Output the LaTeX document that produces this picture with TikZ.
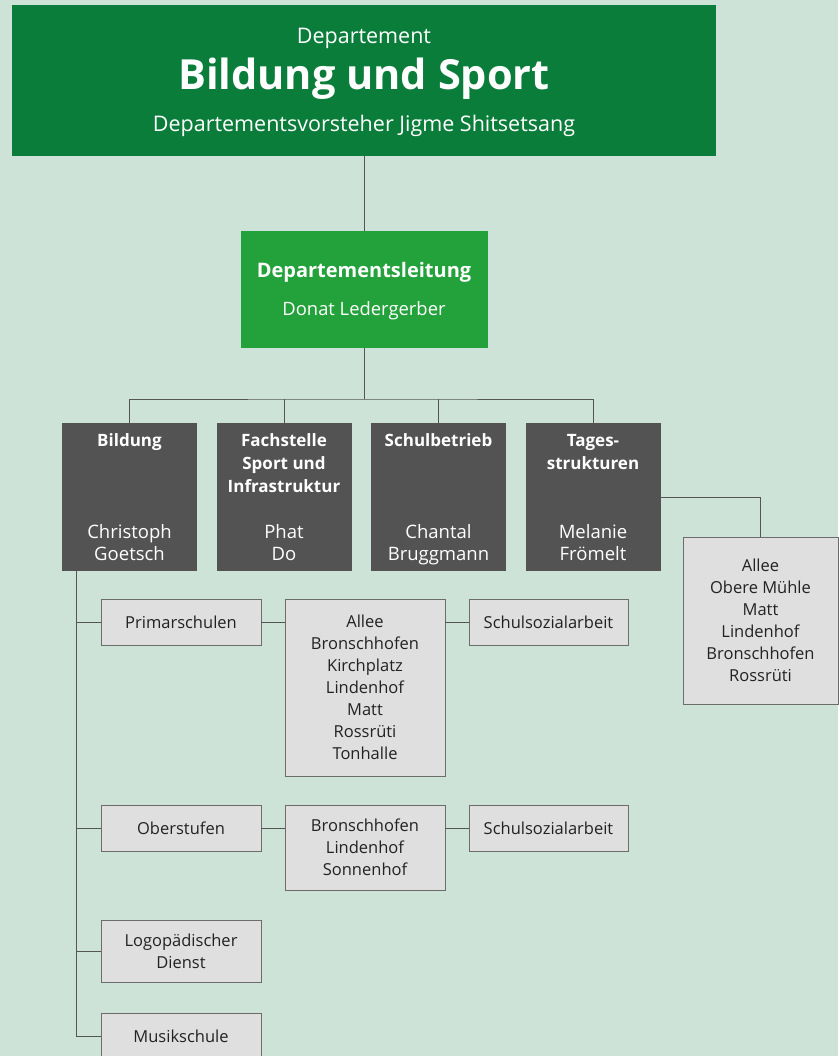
\documentclass[tikz,border=0pt]{standalone}
\usepackage{fontspec}
\setmainfont{Open Sans}
\usepackage{xcolor}
\usepackage{tikz}
\usetikzlibrary{positioning}

\definecolor{bggreen}{HTML}{CDE3D7}
\definecolor{deptgreen}{HTML}{0B7D3A}
\definecolor{leitgreen}{HTML}{23A23B}
\definecolor{unitgrey}{HTML}{535353}
\definecolor{boxgrey}{HTML}{DFDFDF}
\definecolor{boxline}{HTML}{6C6C6C}
\definecolor{wiregrey}{HTML}{555555}
\definecolor{textdark}{HTML}{222222}

\begin{document}
\begin{tikzpicture}[x=1pt, y=1pt,
                    node distance=24pt and 24pt,
                    every node/.style={align=center, inner sep=0pt, outer sep=0pt},
                    topbox/.style={fill=deptgreen, minimum width=704pt, minimum height=151pt},
                    leitbox/.style={fill=leitgreen, minimum width=247pt, minimum height=117pt},
                    unitbox/.style={fill=unitgrey, minimum width=135pt, minimum height=148pt},
                    box/.style={draw=boxline, line width=0.8pt, fill=boxgrey, text=textdark,
                                minimum width=160pt, minimum height=46pt,
                                font=\fontsize{16.5}{22}\selectfont},
                    toptext/.style={text=white, font=\fontsize{21.5}{26}\selectfont},
                    titletext/.style={text=white, font=\fontsize{41.5}{48}\selectfont\bfseries},
                    leittitle/.style={text=white, font=\fontsize{20}{24}\selectfont\bfseries},
                    leitname/.style={text=white, font=\fontsize{18.4}{22}\selectfont},
                    unittitle/.style={text=white, font=\fontsize{17}{23}\selectfont\bfseries},
                    unitname/.style={text=white, font=\fontsize{18.5}{22}\selectfont},
                    wire/.style={draw=wiregrey, line width=1pt}
                ]

                    % Background
                    \path[use as bounding box, fill=bggreen] (0,0) rectangle (838,-1056);

                    % Departement
                    \node (dept) [topbox, anchor=north west] at (12,-5) {};
                    \node (deptlabel) [toptext, anchor=base] at ([yshift=-39pt]dept.north) {Departement};
                    \node (depttitle) [titletext, anchor=base] at ([yshift=-85pt]dept.north) {Bildung und Sport};
                    \node (deptchef) [toptext, anchor=base] at ([yshift=-127pt]dept.north) {Departementsvorsteher Jigme Shitsetsang};

                    % Departementsleitung
                    \node (leitung) [leitbox, below=75pt of dept] {};
                    \node (leitlabel) [leittitle, anchor=base] at ([yshift=-47pt]leitung.north) {Departementsleitung};
                    \node (leitname) [leitname, anchor=base] at ([yshift=-84pt]leitung.north) {Donat Ledergerber};

                    % Bereiche
                    \node (bildung) [unitbox, anchor=north west] at (62,-423) {};
                    \node (fachstelle) [unitbox, right=19.5pt of bildung] {};
                    \node (schulbetrieb) [unitbox, right=19.5pt of fachstelle] {};
                    \node (tages) [unitbox, right=19.5pt of schulbetrieb] {};

                    \node [unittitle, anchor=north] at ([yshift=-11pt]bildung.north) {Bildung};
                    \node [unittitle, anchor=north] at ([yshift=-11pt]fachstelle.north) {Fachstelle\\Sport und\\Infrastruktur};
                    \node [unittitle, anchor=north] at ([yshift=-11pt]schulbetrieb.north) {Schulbetrieb};
                    \node [unittitle, anchor=north] at ([yshift=-11pt]tages.north) {Tages-\\strukturen};

                    \node [unitname, anchor=base] at ([yshift=11pt]bildung.south) {Christoph\\Goetsch};
                    \node [unitname, anchor=base] at ([yshift=11pt]fachstelle.south) {Phat\\Do};
                    \node [unitname, anchor=base] at ([yshift=11pt]schulbetrieb.south) {Chantal\\Bruggmann};
                    \node [unitname, anchor=base] at ([yshift=11pt]tages.south) {Melanie\\Frömelt};

                    % Tagesstrukturen
                    \node (tagesorte) [box, minimum width=155pt, minimum height=167pt, anchor=north west] at (683,-537)
                        {Allee\\Obere Mühle\\Matt\\Lindenhof\\Bronschhofen\\Rossrüti};

                    % Bildung
                    \node (primar) [box, anchor=north west] at (101,-599) {Primarschulen};
                    \node (primarorte) [box, minimum height=177pt, right=24pt of primar.north east, anchor=north west]
                        {Allee\\Bronschhofen\\Kirchplatz\\Lindenhof\\Matt\\Rossrüti\\Tonhalle};
                    \node (primarsozial) [box, minimum width=159pt, right=24pt of primarorte.north east, anchor=north west] {Schulsozialarbeit};

                    \node (ober) [box, anchor=north west] at (101,-805) {Oberstufen};
                    \node (oberorte) [box, minimum height=85pt, right=24pt of ober.north east, anchor=north west]
                        {Bronschhofen\\Lindenhof\\Sonnenhof};
                    \node (obersozial) [box, minimum width=159pt, right=24pt of oberorte.north east, anchor=north west] {Schulsozialarbeit};

                    \node (logo) [box, minimum height=62pt, anchor=north west] at (101,-920) {Logopädischer\\Dienst};
                    \node (musik) [box, anchor=north west] at (101,-1013) {Musikschule};

                    % Lines
                    \draw[wire] (dept) -- (leitung);
                    \draw[wire] (leitung.south) -- ++(0,-51) coordinate (bus);
                    \draw[wire] (bildung.north) |- (bus) -| (tages.north);
                    \draw[wire] (fachstelle.north) -- (fachstelle.north |- bus);
                    \draw[wire] (schulbetrieb.north) -- (schulbetrieb.north |- bus);
                    \draw[wire] (tages.east) -| (tagesorte.north);

                    \coordinate (trunk) at ([xshift=14pt]bildung.south west);
                    \draw[wire] (trunk) |- (musik.west);
                    \draw[wire] (trunk |- primar.west) -- (primar.west);
                    \draw[wire] (trunk |- ober.west) -- (ober.west);
                    \draw[wire] (trunk |- logo.west) -- (logo.west);

                    \draw[wire] (primar.east) -- (primar.east -| primarorte.west);
                    \draw[wire] (primar.east -| primarorte.east) -- (primarsozial.west);
                    \draw[wire] (ober.east) -- (ober.east -| oberorte.west);
                    \draw[wire] (ober.east -| oberorte.east) -- (obersozial.west);

                \end{tikzpicture}
\end{document}
